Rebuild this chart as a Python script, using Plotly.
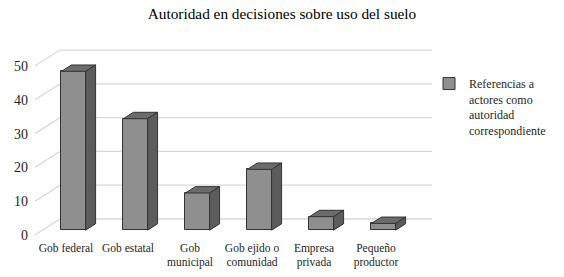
import plotly.graph_objects as go

categories = ["Gob federal", "Gob estatal", "Gob<br>municipal", "Gob ejido o<br>comunidad", "Empresa<br>privada", "Pequeño<br>productor"]
values = [47, 33, 11, 18, 4, 2]
y_ticks = [0, 10, 20, 30, 40, 50]
series_name = "Referencias a<br>actores como<br>autoridad<br>correspondiente"
title = "Autoridad en decisiones sobre uso del suelo"

# 3D-look geometry (in axis units)
DX, DY = 0.403, 4.73        # full depth of floor/wall offset
F0, F1 = 0.30, 0.70         # bar depth span as fraction of full depth
BW = 0.39                   # bar front width
X0, X1 = -0.5, 5.903
Y1 = 57.7

FONT = "Liberation Serif, Times New Roman, serif"
GRID = "#d9d9d9"
FRONT, TOP, SIDE, EDGE = "#8f8f8f", "#6b6b6b", "#5c5c5c", "#333333"

fig = go.Figure()

# back wall gridlines and left diagonals (below the data)
shapes = []
for v in y_ticks:
    shapes.append(dict(type="path", xref="x", yref="y", layer="below",
                       path=f"M {X0},{v} L {X0 + DX},{v + DY} L {X1},{v + DY}",
                       line=dict(color=GRID, width=1.3)))

xs = list(range(len(values)))
fx = [i + F0 * DX for i in xs]
base = F0 * DY
ddx = (F1 - F0) * DX
ddy = (F1 - F0) * DY

# front faces
fig.add_trace(go.Bar(x=fx, y=values, base=[base] * len(values), width=BW,
                     marker=dict(color=FRONT, line=dict(color=EDGE, width=1)),
                     name=series_name, showlegend=True))

# top and side faces
for i, v in zip(fx, values):
    l, r = i - BW / 2, i + BW / 2
    b, t = base, base + v
    fig.add_trace(go.Scatter(x=[l, l + ddx, r + ddx, r, l], y=[t, t + ddy, t + ddy, t, t],
                             fill="toself", fillcolor=TOP, mode="lines",
                             line=dict(color=EDGE, width=1), hoverinfo="skip", showlegend=False))
    fig.add_trace(go.Scatter(x=[r, r + ddx, r + ddx, r, r], y=[b, b + ddy, t + ddy, t, b],
                             fill="toself", fillcolor=SIDE, mode="lines",
                             line=dict(color=EDGE, width=1), hoverinfo="skip", showlegend=False))

fig.update_layout(
    width=564, height=277,
    margin=dict(l=35, r=132, t=40, b=42, autoexpand=False),
    paper_bgcolor="white", plot_bgcolor="white",
    shapes=shapes,
    title=dict(text=title, x=0.5, xref="container", xanchor="center", y=0.949, yanchor="middle",
               font=dict(family=FONT, size=15.3, color="#000000")),
    font=dict(family=FONT, size=12, color="#262626"),
    showlegend=True,
    legend=dict(x=0.9925, y=0.85, xanchor="left", yanchor="top", valign="top",
                font=dict(family=FONT, size=12, color="#262626"),
                bgcolor="rgba(0,0,0,0)", itemwidth=30),
    xaxis=dict(range=[X0, X1], tickmode="array", tickvals=xs, ticktext=categories,
               showgrid=False, zeroline=False, showline=False, ticks="",
               tickangle=0, automargin=False, ticklabelstandoff=4, tickfont=dict(size=11.5)),
    yaxis=dict(range=[0, Y1], tickmode="array", tickvals=y_ticks,
               ticktext=[str(v) for v in y_ticks], automargin=False, ticklabelstandoff=6,
               showgrid=False, zeroline=False, showline=False, ticks="",
               tickfont=dict(size=14)),
    bargap=0,
)

fig.write_html("out.html", config={"displayModeBar": False},
               post_script="document.body.style.margin='0';")
